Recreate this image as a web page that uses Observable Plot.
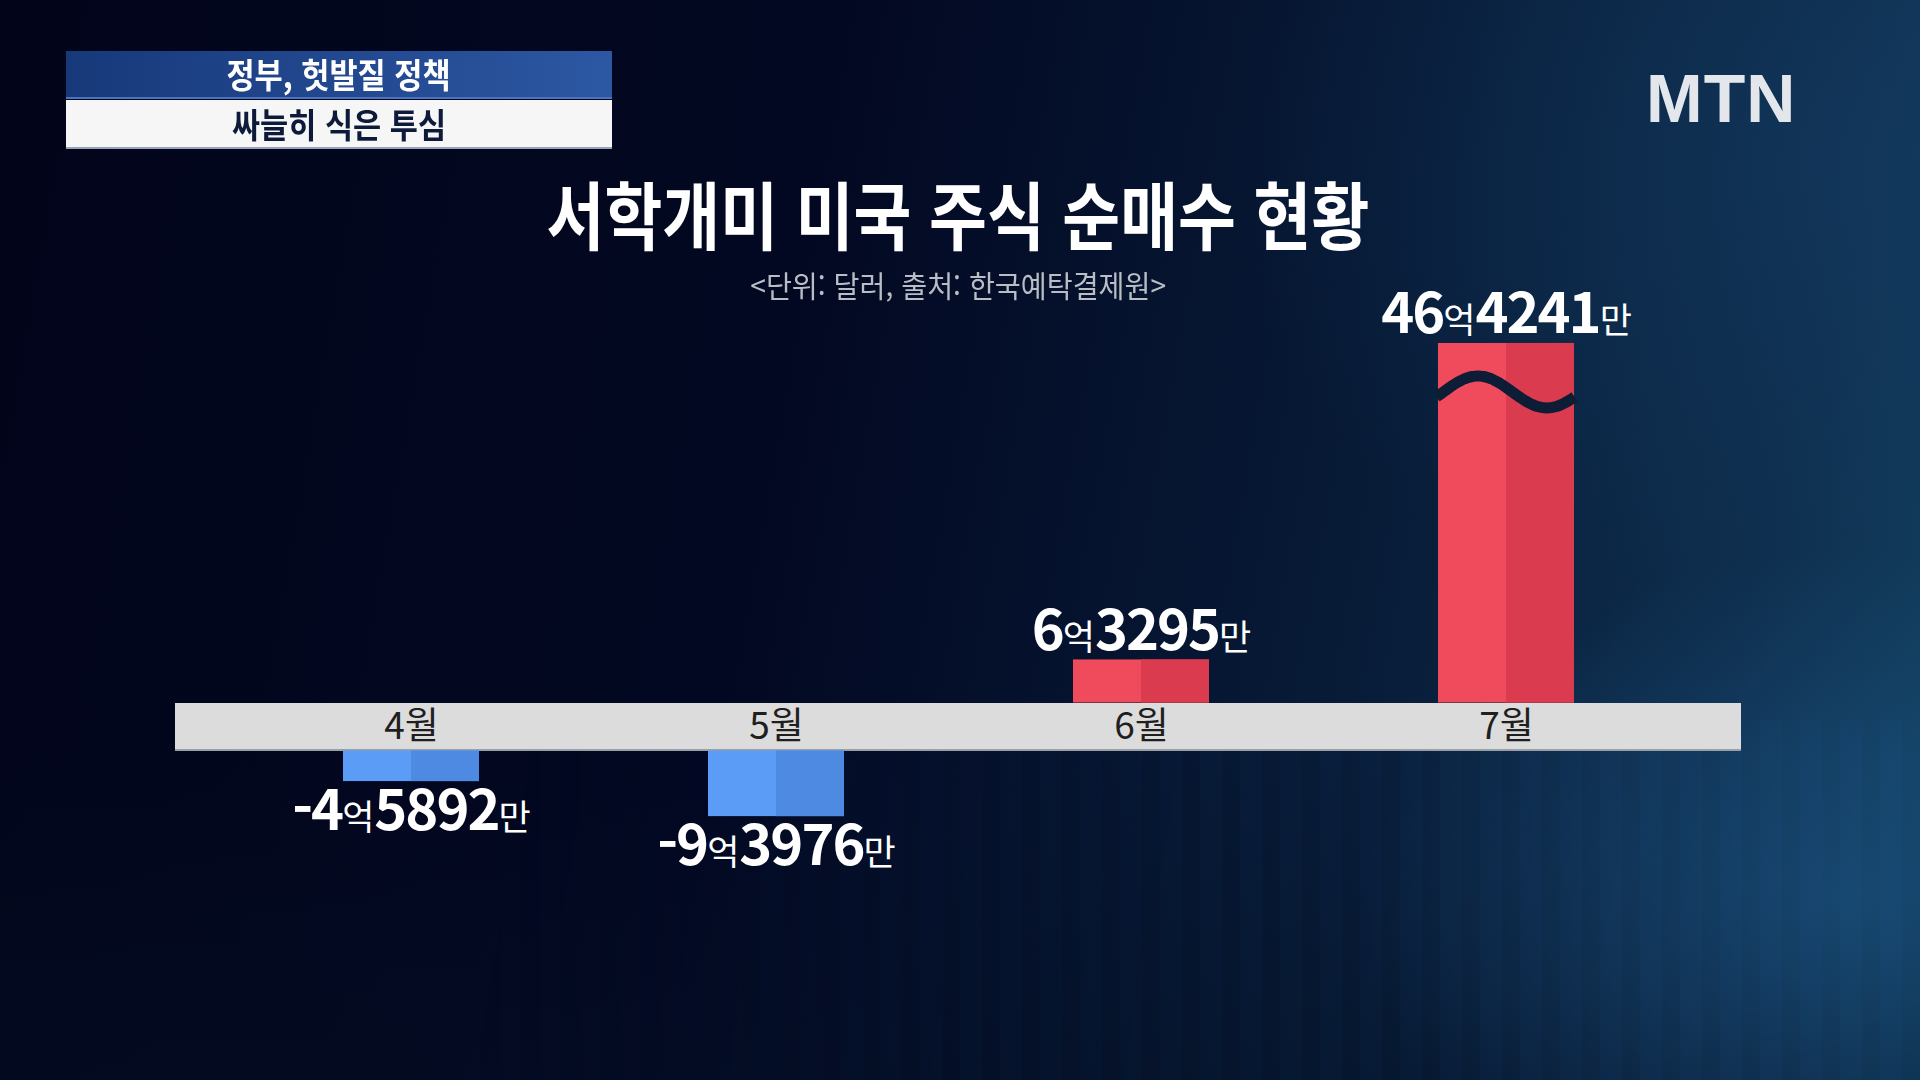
<!DOCTYPE html>
<html lang="ko">
<head>
<meta charset="utf-8">
<script src="https://cdn.jsdelivr.net/npm/d3@7"></script>
<script src="https://cdn.jsdelivr.net/npm/@observablehq/plot@0.6"></script>
<style>
  html, body { margin: 0; padding: 0; }
  body {
    width: 1920px; height: 1080px; overflow: hidden; position: relative;
    font-family: "Noto Sans CJK KR", "Noto Sans", sans-serif;
    background:
      radial-gradient(ellipse 700px 500px at 1850px 900px, rgba(30,90,140,0.55), rgba(30,90,140,0) 70%),
      radial-gradient(ellipse 900px 700px at 1900px 150px, rgba(20,60,100,0.55), rgba(20,60,100,0) 75%),
      linear-gradient(180deg, rgba(0,0,0,0) 0%, rgba(0,0,0,0) 70%, rgba(4,14,34,0.5) 100%),
      linear-gradient(100deg, #02051a 0%, #030822 40%, #071a36 68%, #0e2d4c 88%, #12405f 100%);
  }
  #stripes {
    position: absolute; left: 0; top: 720px; width: 1920px; height: 360px;
    background: repeating-linear-gradient(90deg, rgba(40,100,170,0.07) 0px, rgba(40,100,170,0.07) 22px, rgba(0,0,0,0) 22px, rgba(0,0,0,0) 40px);
    -webkit-mask-image: linear-gradient(100deg, rgba(0,0,0,0) 25%, rgba(0,0,0,0.5) 60%, rgba(0,0,0,1) 100%);
    mask-image: linear-gradient(100deg, rgba(0,0,0,0) 25%, rgba(0,0,0,0.5) 60%, rgba(0,0,0,1) 100%);
  }
  .box { position: absolute; left: 66px; width: 546px; display: flex; align-items: center; justify-content: center; }
  .box span { display: inline-block; transform: scaleX(0.9); font-weight: 700; font-size: 34px; line-height: 1; }
  #b1 { top: 51px; height: 48px; background: linear-gradient(90deg, #17397a 0%, #22488f 50%, #2c57a2 100%); color: #ffffff; border-bottom: 2px solid #4a74c0; box-sizing: border-box; }
  #b2 { top: 100px; height: 49px; background: #f6f6f6; color: #0d1a3a; border-bottom: 2px solid #9aa3b5; box-sizing: border-box; }
  #logo { position: absolute; left: 1646px; top: 64px; font-family: "Liberation Sans", Arial, sans-serif; font-weight: 700; font-size: 68px; line-height: 1; color: #e3e7ec; letter-spacing: 1px; }
  #title { position: absolute; left: 0; width: 1916px; top: 175px; text-align: center; }
  #title span { display: inline-block; transform: scaleX(0.85); font-weight: 700; font-size: 74px; line-height: 1; color: #ffffff; white-space: nowrap; }
  #subtitle { position: absolute; left: 0; width: 1916px; top: 269px; text-align: center; }
  #subtitle span { display: inline-block; transform: scaleX(0.94); font-weight: 400; font-size: 30px; line-height: 1; color: #b9bdc6; white-space: nowrap; }
  #chart { position: absolute; left: 0; top: 0; }
</style>
</head>
<body>
<div id="stripes"></div>
<div class="box" id="b1"><span>정부, 헛발질 정책</span></div>
<div class="box" id="b2"><span>싸늘히 식은 투심</span></div>
<div id="logo">MTN</div>
<div id="title"><span>서학개미 미국 주식 순매수 현황</span></div>
<div id="subtitle"><span>&lt;단위: 달러, 출처: 한국예탁결제원&gt;</span></div>
<div id="chart"></div>
<script>
// ---- data (values in 억 달러) ----
const months = ["4월", "5월", "6월", "7월"];
const values = [-4.5892, -9.3976, 6.3295, 46.4241];
const valueLabels = ["-4억5892만", "-9억3976만", "6억3295만", "46억4241만"];

const data = months.map((m, i) => ({month: m, value: values[i], label: valueLabels[i]}));
const posData = data.filter(d => d.value > 0);
const negData = data.filter(d => d.value < 0);

// ---- layout ----
const W = 1920, H = 1080;
const xRange = [175, 1741];
const padIn = 0.6274, padOut = 0.4589;
const bandGap = 48; // thickness of the month band separating + and - bars
const xs = d3.scaleBand().domain(months).range(xRange).paddingInner(padIn).paddingOuter(padOut);
const bw = xs.bandwidth();
const yDomain = [-10, 50];
const yRange = [772.6, 313.4];
const yExp = 1.065;
const ys = d3.scalePow().exponent(yExp).domain(yDomain).range(yRange);

// axis-break wave drawn on the tallest bar
function breakMark() {
  const top = data.reduce((a, b) => (b.value > a.value ? b : a));
  const x0 = xs(top.month);
  const yc = ys(top.value) + 49;
  const pts = d3.range(0, 1.0001, 0.02).map(t => [x0 - 1 + t * (bw + 2), yc - 16 * Math.sin(2 * Math.PI * (t - 0.05))]);
  const ns = "http://www.w3.org/2000/svg";
  const p = document.createElementNS(ns, "path");
  p.setAttribute("d", d3.line().curve(d3.curveBasis)(pts));
  p.setAttribute("fill", "none");
  p.setAttribute("stroke", "#0c1d35");
  p.setAttribute("stroke-width", 11);
  const g = document.createElementNS(ns, "g");
  g.appendChild(p);
  return g;
}

const labelFont = {fontSize: 56, fontWeight: 700, fill: "#ffffff"};

const plot = Plot.plot({
  width: W, height: H,
  marginLeft: xRange[0], marginRight: W - xRange[1], marginTop: 0, marginBottom: 0,
  style: {background: "transparent", overflow: "visible", fontFamily: "'Noto Sans CJK KR', 'Noto Sans', sans-serif"},
  x: {domain: months, range: xRange, paddingInner: padIn, paddingOuter: padOut, axis: null},
  y: {type: "pow", exponent: yExp, domain: yDomain, range: yRange, axis: null},
  marks: [
    Plot.ruleY([0], {stroke: "#dcdcdc", strokeWidth: bandGap, dy: bandGap / 2}),
    Plot.ruleY([0], {stroke: "#9aa0a8", strokeWidth: 2, dy: bandGap - 1}),
    Plot.barY(posData, {x: "month", y: "value", fill: "#ef4b5c"}),
    Plot.barY(posData, {x: "month", y: "value", fill: "#da3b4e", insetLeft: bw / 2}),
    Plot.barY(negData, {x: "month", y: "value", fill: "#5b9cf6", dy: bandGap}),
    Plot.barY(negData, {x: "month", y: "value", fill: "#4f8ae2", insetLeft: bw / 2, dy: bandGap}),
    breakMark,
    Plot.text(months, {x: d => d, y: 0, dy: bandGap / 2, fontSize: 37, fontWeight: 400, fill: "#1f1f1f", lineAnchor: "middle"}),
    Plot.text(posData, {x: "month", y: "value", text: "label", dy: -10, lineAnchor: "bottom", ...labelFont}),
    Plot.text(negData, {x: "month", y: "value", text: "label", dy: bandGap + 9, lineAnchor: "top", ...labelFont})
  ]
});

// smaller unit characters (억, 만) inside the value labels
const NS = "http://www.w3.org/2000/svg";
const labelSet = new Set(valueLabels);
plot.querySelectorAll("text").forEach(t => {
  const s = t.textContent;
  if (!labelSet.has(s)) return;
  t.textContent = "";
  s.split(/([억만])/).filter(Boolean).forEach(part => {
    const ts = document.createElementNS(NS, "tspan");
    ts.textContent = part;
    if (/[억만]/.test(part)) {
      ts.setAttribute("font-size", 35);
      ts.setAttribute("font-weight", 400);
    } else {
      ts.setAttribute("letter-spacing", -2);
    }
    t.appendChild(ts);
  });
});

document.getElementById("chart").appendChild(plot);
</script>
</body>
</html>
